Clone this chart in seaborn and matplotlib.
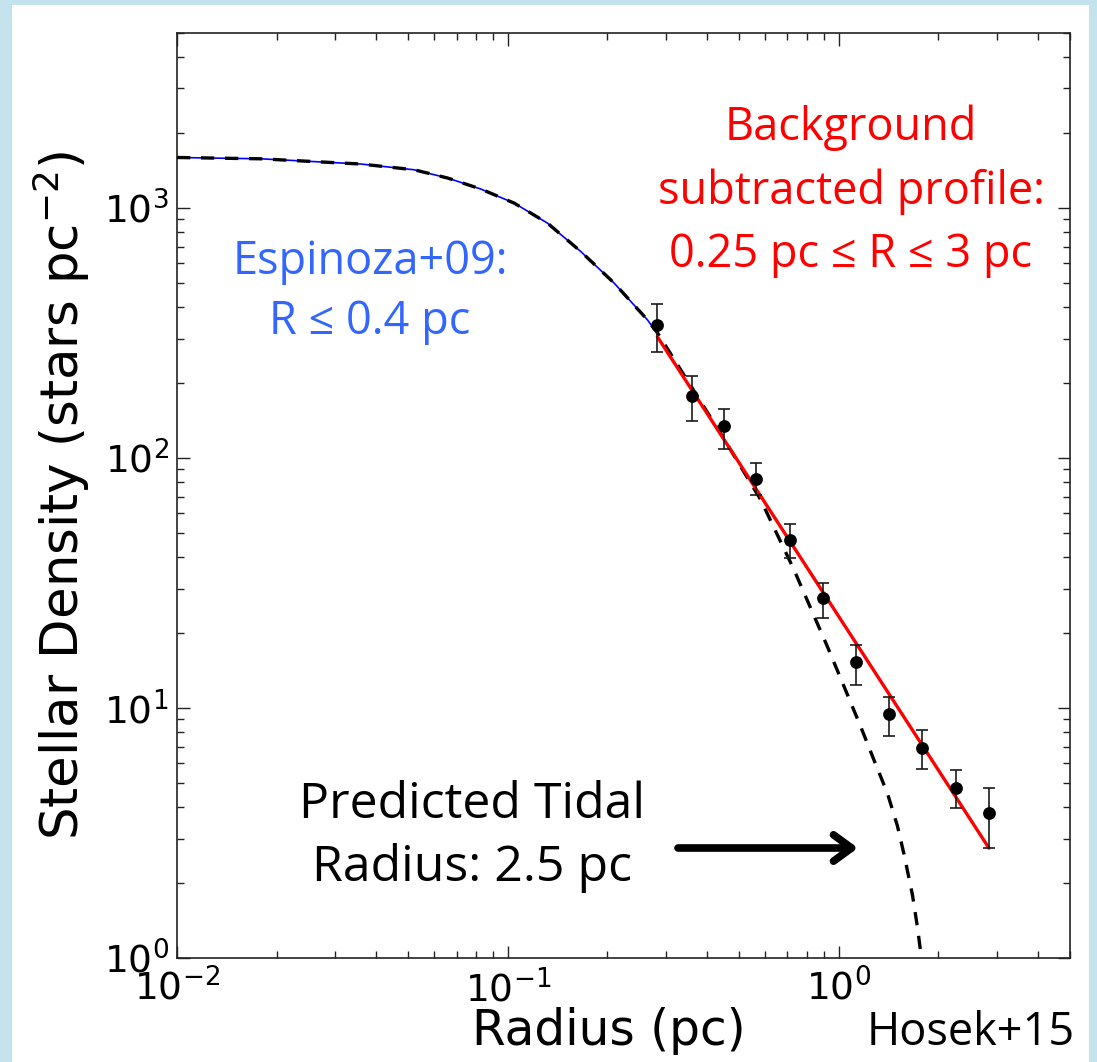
import numpy as np
import pandas as pd
import matplotlib
matplotlib.use("Agg")
import matplotlib.pyplot as plt
from matplotlib.patches import Rectangle
import seaborn as sns

# ---------------- data ----------------
radius_pc = [0.283, 0.359, 0.450, 0.564, 0.711, 0.899, 1.131, 1.419, 1.79, 2.257, 2.845]
density = [340, 177.5, 134.3, 82.4, 47.1, 27.4, 15.2, 9.43, 6.93, 4.80, 3.79]
density_hi = [412, 213, 157.5, 95.7, 54.6, 31.7, 17.8, 11.1, 8.17, 5.65, 4.80]
density_lo = [265, 141, 109, 71, 39.9, 22.8, 12.4, 7.74, 5.70, 3.97, 2.75]

# Espinoza+09 King profile (blue)
blue_r = [0.0100, 0.0179, 0.0360, 0.0521, 0.0658, 0.0829, 0.1045, 0.1318, 0.1662, 0.2095, 0.2643, 0.2833]
blue_y = [1589, 1570, 1496, 1419, 1315, 1188, 1044, 868, 668, 500, 356, 314]

# predicted King profile with tidal radius (black dashed)
dash_r = [0.0100, 0.0179, 0.0360, 0.0521, 0.0658, 0.0829, 0.1045, 0.1318, 0.1662, 0.2095, 0.2643,
          0.2833, 0.440, 0.581, 0.733, 0.924, 1.038, 1.165, 1.278, 1.403, 1.504, 1.575,
          1.670, 1.729, 1.778]
dash_y = [1589, 1570, 1496, 1419, 1315, 1188, 1044, 868, 668, 500, 356,
          316, 125, 68, 35.6, 17.6, 12.17, 8.42, 6.19, 4.56, 3.38, 2.6,
          1.79, 1.33, 1.0]

# background-subtracted power-law fit (red)
red_r = [0.283, 2.845]
red_y = [305, 2.75]

x_ticks = [0.01, 0.1, 1.0]
x_ticklabels = [r"$10^{-2}$", r"$10^{-1}$", r"$10^{0}$"]
y_ticks = [1, 10, 100, 1000]
y_ticklabels = [r"$10^{0}$", r"$10^{1}$", r"$10^{2}$", r"$10^{3}$"]

# ---------------- figure ----------------
sns.set_style("ticks")
plt.rcParams["font.family"] = ["DejaVu Sans"]
plt.rcParams["mathtext.fontset"] = "dejavusans"

W, H = 1097, 1062
fig = plt.figure(figsize=(W / 100, H / 100), dpi=100, facecolor="#c5e3ec")
fig.patches.append(Rectangle((12 / W, 0), (1089 - 12) / W, (1062 - 5) / H,
                             transform=fig.transFigure, facecolor="white",
                             edgecolor="none", zorder=-5))

ax = fig.add_axes([177 / W, (H - 958) / H, (1070 - 177) / W, (958 - 33) / H])
ax.set_zorder(2)
ax.set_facecolor("white")

pts = pd.DataFrame({"r": radius_pc, "d": density})
blue = pd.DataFrame({"r": blue_r, "d": blue_y})
dash = pd.DataFrame({"r": dash_r, "d": dash_y})
red = pd.DataFrame({"r": red_r, "d": red_y})

sns.lineplot(data=blue, x="r", y="d", ax=ax, color="#0000ff", lw=1.2,
             estimator=None, sort=False, zorder=2)
sns.lineplot(data=dash, x="r", y="d", ax=ax, color="black", lw=2.4,
             estimator=None, sort=False, zorder=3)
ax.lines[-1].set_dashes([4, 3.2])
sns.lineplot(data=red, x="r", y="d", ax=ax, color="#ff0000", lw=2.4,
             estimator=None, sort=False, zorder=4)

yerr = [np.array(density) - np.array(density_lo), np.array(density_hi) - np.array(density)]
ax.errorbar(radius_pc, density, yerr=yerr, fmt="none", ecolor="#1a1a1a",
            elinewidth=1.2, capsize=4.5, capthick=1.2, zorder=5)
sns.scatterplot(data=pts, x="r", y="d", ax=ax, color="black", s=85,
                edgecolor="black", linewidth=0, zorder=6)

ax.set_xscale("log")
ax.set_yscale("log")
ax.set_xlim(0.01, 5.0)
ax.set_ylim(1, 5000)
ax.set_xticks(x_ticks)
ax.set_xticklabels(x_ticklabels)
ax.set_yticks(y_ticks)
ax.set_yticklabels(y_ticklabels)

for s in ax.spines.values():
    s.set_color("#222222")
    s.set_linewidth(1.2)
    s.set_visible(True)
ax.tick_params(which="both", direction="in", top=True, right=True, color="#222222",
               labelcolor="black")
ax.tick_params(which="major", length=9, width=1.0, labelsize=27, pad=6)
ax.tick_params(which="minor", length=5, width=1.0)
ax.tick_params(axis="x", which="major", pad=8)

ax.set_xlabel("Radius (pc)", fontsize=35, labelpad=0, color="black")
ax.xaxis.set_label_coords((609 - 177) / (1070 - 177), -(1007 - 958) / (958 - 33),
                          transform=ax.transAxes)
ax.xaxis.label.set_va("top")
ax.set_ylabel(r"Stellar Density (stars pc$^{-2}$)", fontsize=37, labelpad=8, color="black")

ann = ["Open Sans", "DejaVu Sans"]
fs = 32.5
fig.text(370 / W, 1 - 262 / H, "Espinoza+09:", color="#3366ff", fontsize=fs,
         family=ann, ha="center", va="center")
fig.text(370 / W, 1 - 322 / H, "R ≤ 0.4 pc", color="#3366ff", fontsize=fs,
         family=ann, ha="center", va="center")
fig.text(851 / W, 1 - 128 / H, "Background", color="#ff0000", fontsize=fs,
         family=ann, ha="center", va="center")
fig.text(851 / W, 1 - 192 / H, "subtracted profile:", color="#ff0000", fontsize=fs,
         family=ann, ha="center", va="center")
fig.text(851 / W, 1 - 255 / H, "0.25 pc ≤ R ≤ 3 pc", color="#ff0000", fontsize=fs,
         family=ann, ha="center", va="center")
fig.text(472 / W, 1 - 805 / H, "Predicted Tidal", color="black", fontsize=36,
         family=ann, ha="center", va="center")
fig.text(472 / W, 1 - 868 / H, "Radius: 2.5 pc", color="black", fontsize=36,
         family=ann, ha="center", va="center")
fig.text(1075 / W, 1 - 1033 / H, "Hosek+15", color="black", fontsize=32.5,
         family=ann, ha="right", va="center", zorder=10)

ax.annotate("", xy=(858 / W, 1 - 848 / H), xytext=(678 / W, 1 - 848 / H),
            xycoords="figure fraction", textcoords="figure fraction",
            arrowprops=dict(arrowstyle="->,head_length=1.3,head_width=0.95",
                            lw=5.5, color="black", shrinkA=0, shrinkB=0,
                            capstyle="round", joinstyle="round"))

fig.savefig("out.png", dpi=100, facecolor=fig.get_facecolor())
